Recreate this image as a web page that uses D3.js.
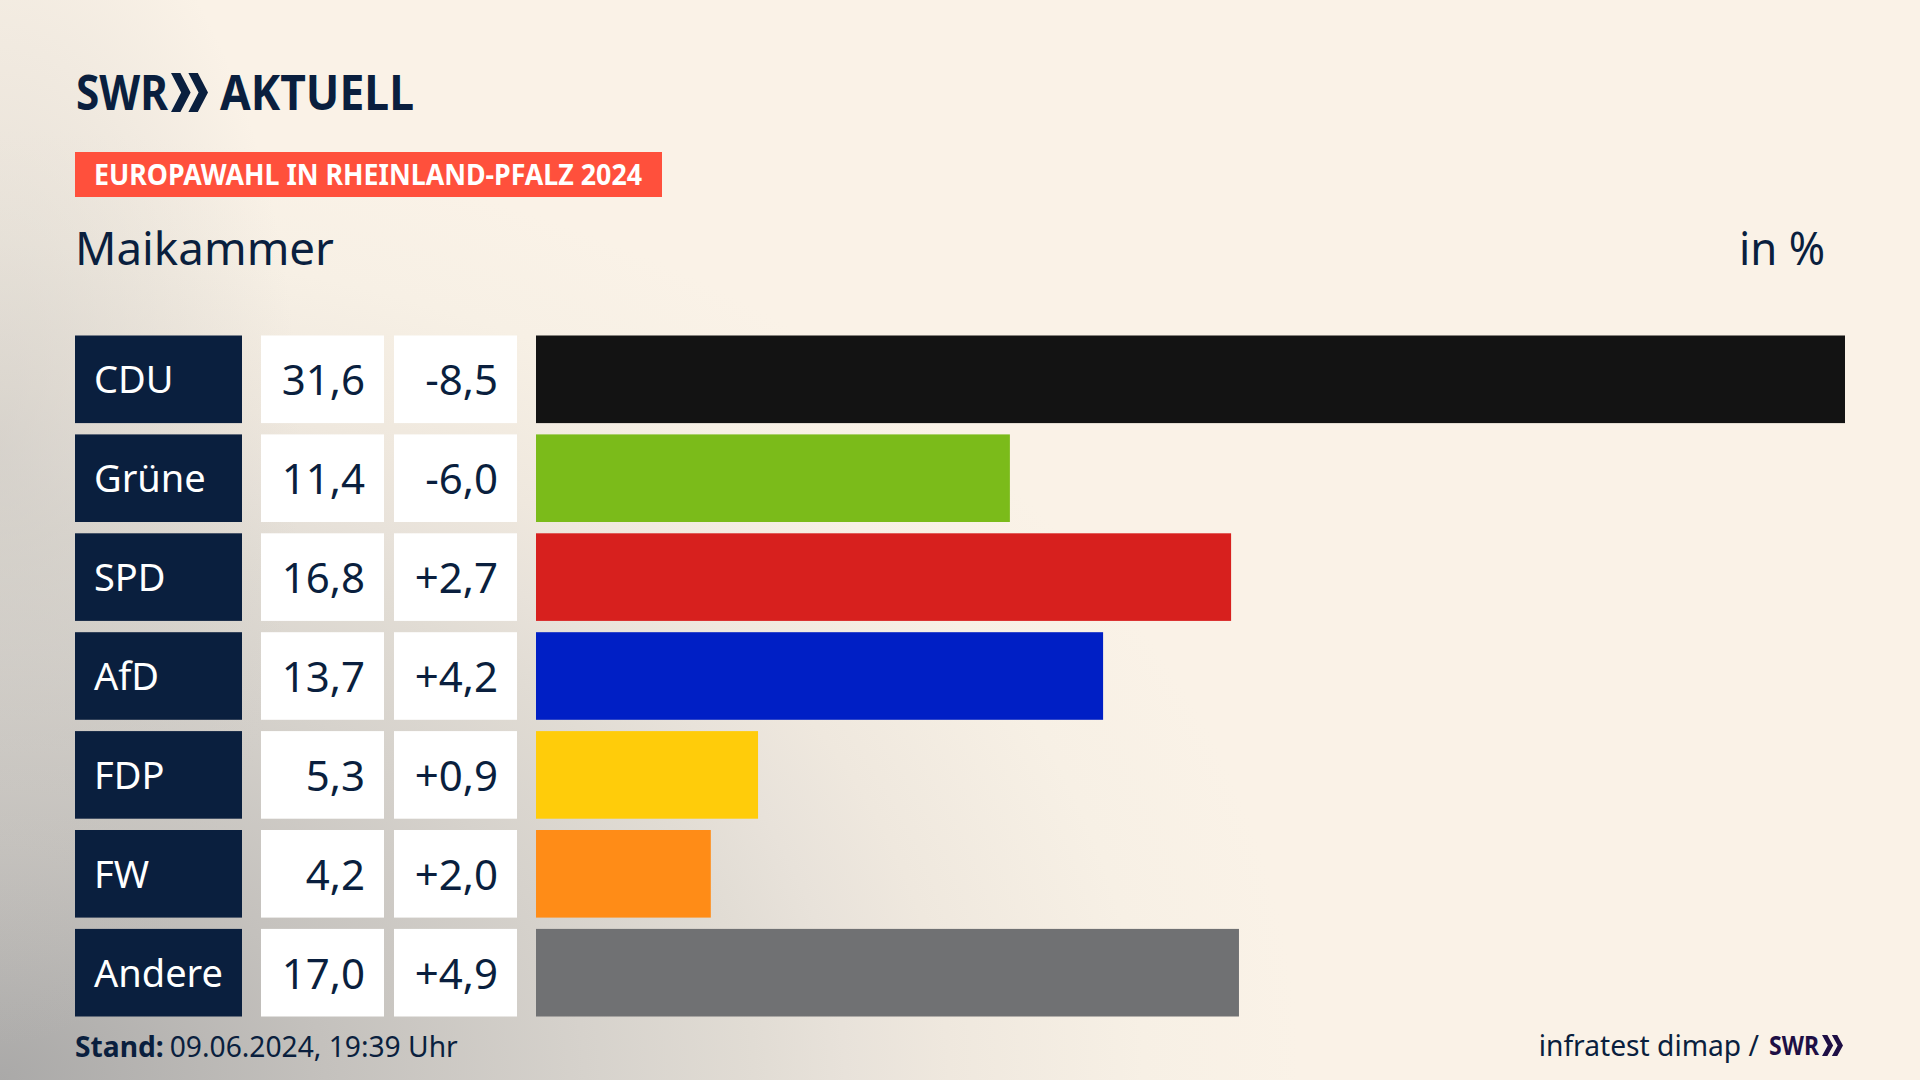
<!DOCTYPE html>
<html lang="de">
<head>
    <meta charset="UTF-8">
    <title>Europawahl in Rheinland-Pfalz 2024 - Maikammer</title>
    <script src="https://d3js.org/d3.v7.min.js"></script>
    <style>
        html, body { margin: 0; padding: 0; background: #faf2e7; }
        svg { display: block; font-family: "Noto Sans", sans-serif; }
        .label { fill: #fff; font-size: 38px; }
        .num { fill: #0a1f3e; font-size: 42px; text-anchor: end; }
    </style>
</head>
<body>
    <svg id="chart" width="1920" height="1080"></svg>

    <script>
        const parties = ["CDU", "Grüne", "SPD", "AfD", "FDP", "FW", "Andere"];
        const shares = [31.6, 11.4, 16.8, 13.7, 5.3, 4.2, 17.0];
        const changes = [-8.5, -6.0, 2.7, 4.2, 0.9, 2.0, 4.9];
        // bar lengths as measured, they carry a bit more precision than the printed shares
        const barValues = [31.6, 11.44, 16.78, 13.69, 5.36, 4.22, 16.97];
        const partyColors = ["#131313", "#7bbb1a", "#d7201e", "#001fc5", "#ffcc0a", "#ff8c17", "#707173"];

        const navy = "#0a1f3e";
        const svg = d3.select("#chart");
        const defs = svg.append("defs");

        // background: cream with a grey shade from the bottom left corner, plus a fade along the left edge
        const shade = defs.append("radialGradient")
            .attr("id", "shade")
            .attr("gradientUnits", "userSpaceOnUse")
            .attr("cx", 0).attr("cy", 0).attr("r", 1)
            .attr("gradientTransform", "translate(0,1080) scale(1300,950)");
        [[0, "#aaa9a8"], [0.25, "#c4c1bd"], [0.45, "#d6d2cc"], [0.58, "#e1dcd4"],
         [0.65, "#e8e2da"], [0.73, "#efe8de"], [0.88, "#f7f0e5"], [1, "#faf2e7"]].forEach(s => {
            shade.append("stop").attr("offset", s[0]).attr("stop-color", s[1]);
        });
        const edge = defs.append("radialGradient")
            .attr("id", "edge")
            .attr("gradientUnits", "userSpaceOnUse")
            .attr("cx", 0).attr("cy", 0).attr("r", 1)
            .attr("gradientTransform", "translate(0,450) scale(300,600)");
        edge.append("stop").attr("offset", 0).attr("stop-color", "#c8c5c0").attr("stop-opacity", 0.55);
        edge.append("stop").attr("offset", 1).attr("stop-color", "#c8c5c0").attr("stop-opacity", 0);
        svg.append("rect").attr("width", 1920).attr("height", 1080).attr("fill", "url(#shade)");
        svg.append("rect").attr("width", 1920).attr("height", 1080).attr("fill", "url(#edge)");

        // logo
        function chevrons(g, x, y, w, h) {
            const cw = w * 0.53, step = w - cw;
            [0, step].forEach(dx => {
                g.append("path")
                    .attr("fill", g.attr("fill"))
                    .attr("d", d3.line()([
                        [x + dx, y], [x + dx + cw * 0.48, y], [x + dx + cw, y + h / 2],
                        [x + dx + cw * 0.48, y + h], [x + dx, y + h], [x + dx + cw * 0.52, y + h / 2]
                    ]) + "Z");
            });
        }
        const logo = svg.append("g").attr("fill", navy);
        logo.append("text").attr("x", 76).attr("y", 110).attr("font-size", 49).attr("font-weight", 700)
            .attr("textLength", 92).attr("lengthAdjust", "spacingAndGlyphs").text("SWR");
        chevrons(logo, 171, 73, 37, 39);
        logo.append("text").attr("x", 220).attr("y", 110).attr("font-size", 49).attr("font-weight", 700)
            .attr("textLength", 194).attr("lengthAdjust", "spacingAndGlyphs").text("AKTUELL");

        // header
        svg.append("rect").attr("x", 75).attr("y", 152).attr("width", 587).attr("height", 45).attr("fill", "#ff503c");
        svg.append("text").attr("x", 94).attr("y", 185).attr("fill", "#fff").attr("font-size", 28).attr("font-weight", 700)
            .attr("textLength", 548).attr("lengthAdjust", "spacingAndGlyphs").text("EUROPAWAHL IN RHEINLAND-PFALZ 2024");
        svg.append("text").attr("x", 75).attr("y", 265).attr("fill", navy).attr("font-size", 46)
            .attr("textLength", 259).attr("lengthAdjust", "spacingAndGlyphs").text("Maikammer");
        svg.append("text").attr("x", 1739).attr("y", 265).attr("fill", navy).attr("font-size", 46)
            .attr("textLength", 86).attr("lengthAdjust", "spacingAndGlyphs").text("in %");

        // rows
        const y = d3.scaleBand().domain(parties).range([335.5, 1016.5]).paddingInner(0.1143);
        const x = d3.scaleLinear().domain([0, 31.6]).range([536, 1845]);
        const color = d3.scaleOrdinal().domain(parties).range(partyColors);
        const fmt = d3.formatLocale({ decimal: ",", thousands: ".", grouping: [3], currency: ["", "€"], minus: "-" });
        const fmtShare = fmt.format(".1f");
        const fmtChange = fmt.format("+.1f");

        const row = svg.selectAll(".row")
            .data(parties.map((p, i) => ({ p, share: shares[i], change: changes[i], bar: barValues[i] })))
            .enter().append("g").attr("class", "row")
            .attr("transform", d => `translate(0,${y(d.p)})`);

        row.append("rect").attr("x", 75).attr("width", 167).attr("height", y.bandwidth()).attr("fill", navy);
        row.append("rect").attr("x", 261).attr("width", 123).attr("height", y.bandwidth()).attr("fill", "#fff");
        row.append("rect").attr("x", 394).attr("width", 123).attr("height", y.bandwidth()).attr("fill", "#fff");
        row.append("rect").attr("x", x(0)).attr("width", d => x(d.bar) - x(0)).attr("height", y.bandwidth())
            .attr("fill", d => color(d.p));

        row.append("text").attr("class", "label").attr("x", 94).attr("y", y.bandwidth() / 2 + 14).text(d => d.p);
        row.append("text").attr("class", "num").attr("x", 365).attr("y", y.bandwidth() / 2 + 16).text(d => fmtShare(d.share));
        row.append("text").attr("class", "num").attr("x", 498).attr("y", y.bandwidth() / 2 + 16).text(d => fmtChange(d.change));

        // footer
        const stand = svg.append("text").attr("x", 75).attr("y", 1057).attr("fill", navy).attr("font-size", 28.2);
        stand.append("tspan").attr("font-weight", 700).text("Stand:");
        stand.append("tspan").attr("dx", 6).text("09.06.2024, 19:39 Uhr");

        svg.append("text").attr("x", 1759).attr("y", 1056).attr("fill", navy).attr("font-size", 28.2)
            .attr("text-anchor", "end").text("infratest dimap /");
        const credit = svg.append("g").attr("fill", "#1e0f45");
        credit.append("text").attr("x", 1769).attr("y", 1055).attr("font-size", 26).attr("font-weight", 700)
            .attr("textLength", 50).attr("lengthAdjust", "spacingAndGlyphs").text("SWR");
        chevrons(credit, 1822, 1035, 21, 21);
    </script>
</body>
</html>
